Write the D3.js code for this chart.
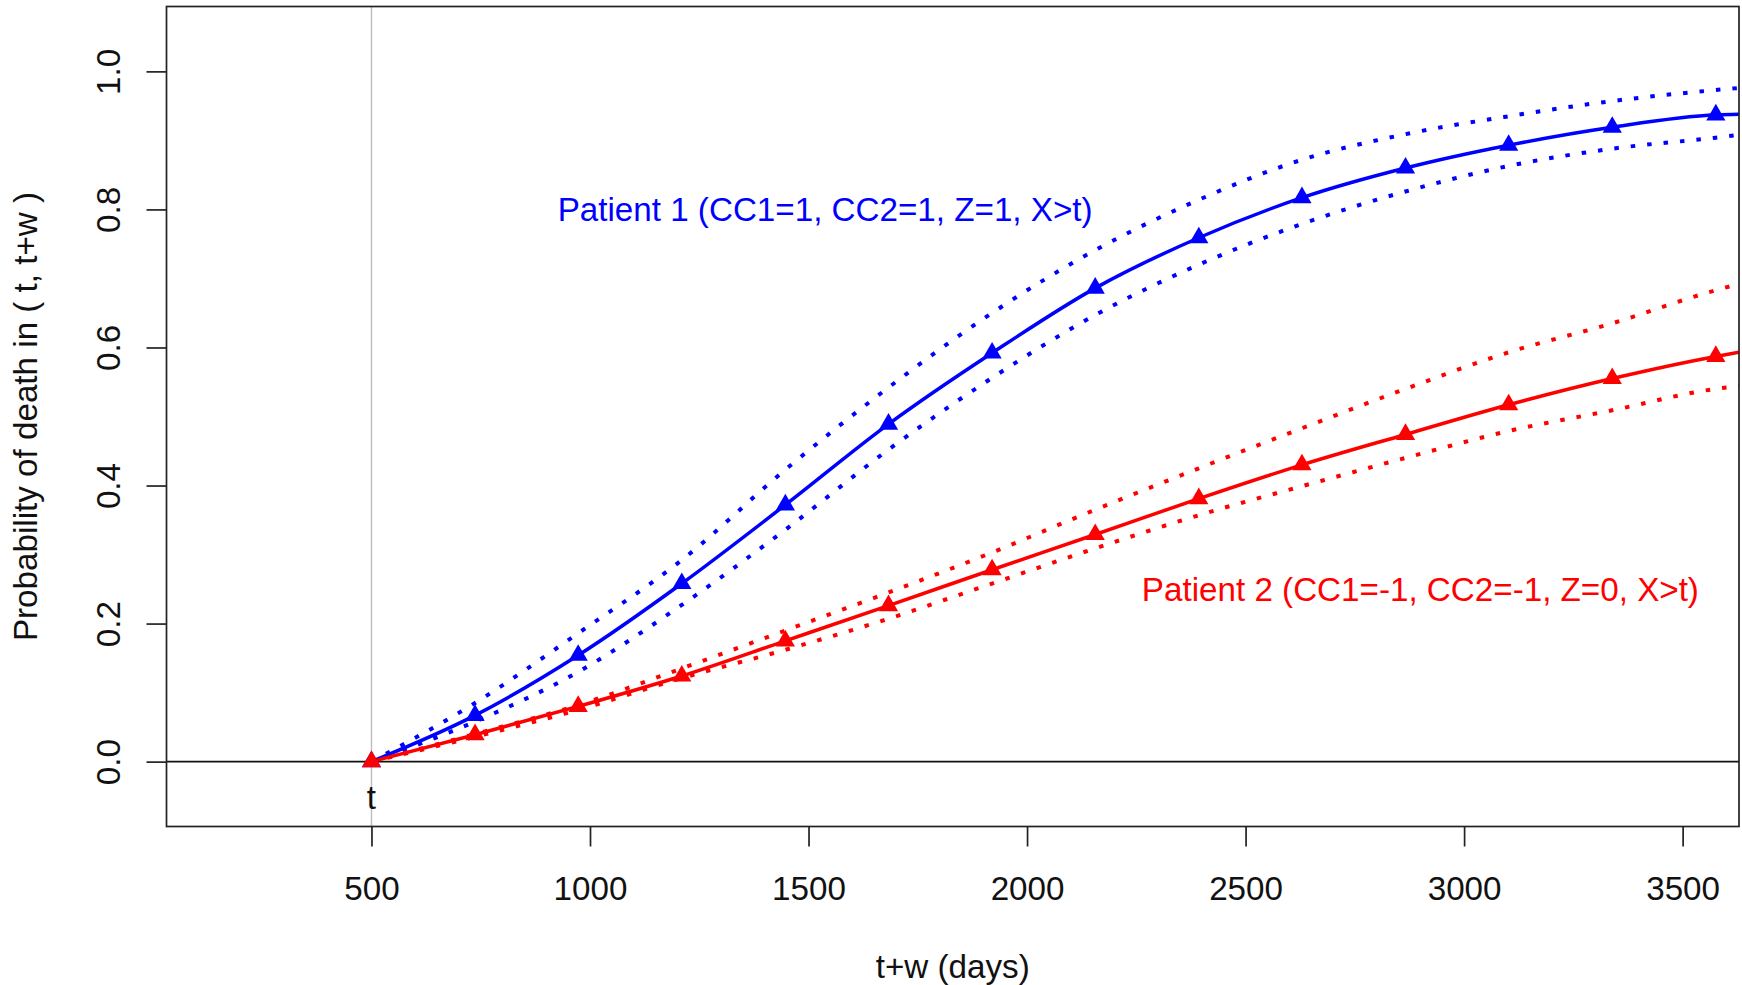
<!DOCTYPE html>
<html>
<head>
<meta charset="utf-8">
<script src="https://cdn.jsdelivr.net/npm/d3@7"></script>
<style>
  html, body { margin: 0; padding: 0; background: #fff; }
  svg { display: block; font-family: "Liberation Sans", Arial, sans-serif; }
</style>
</head>
<body>
<svg id="chart" width="1742" height="985"></svg>
<script>
// ---- data ----
const times = [500, 737, 973, 1210, 1447, 1683, 1920, 2156, 2393, 2629, 2866, 3102, 3339, 3576, 3629];
const markerCount = 14; // triangles drawn at the first 14 time points

const p1Est   = [0, 0.067, 0.154, 0.258, 0.372, 0.489, 0.592, 0.686, 0.759, 0.817, 0.860, 0.893, 0.919, 0.937, 0.938];
const p1Upper = [0, 0.085, 0.186, 0.292, 0.423, 0.542, 0.650, 0.741, 0.814, 0.872, 0.909, 0.935, 0.957, 0.973, 0.976];
const p1Lower = [0, 0.058, 0.130, 0.227, 0.336, 0.452, 0.556, 0.647, 0.720, 0.779, 0.826, 0.863, 0.888, 0.904, 0.908];

const p2Est   = [0, 0.039, 0.080, 0.124, 0.175, 0.226, 0.278, 0.329, 0.381, 0.430, 0.474, 0.517, 0.555, 0.587, 0.593];
const p2Upper = [0, 0.040, 0.082, 0.135, 0.190, 0.245, 0.303, 0.365, 0.425, 0.483, 0.540, 0.593, 0.635, 0.683, 0.692];
const p2Lower = [0, 0.036, 0.075, 0.121, 0.162, 0.207, 0.258, 0.309, 0.357, 0.399, 0.440, 0.479, 0.509, 0.540, 0.544];

const xTicks = [500, 1000, 1500, 2000, 2500, 3000, 3500];
const yTicks = [0, 0.2, 0.4, 0.6, 0.8, 1.0];
const yTickLabels = ["0.0", "0.2", "0.4", "0.6", "0.8", "1.0"];

const tValue = 500;
const label1 = "Patient 1 (CC1=1, CC2=1, Z=1, X>t)";
const label2 = "Patient 2 (CC1=-1, CC2=-1, Z=0, X>t)";
const label1Pos = [1538, 0.80];
const label2Pos = [2900, 0.25];
const xTitle = "t+w (days)";
const yTitle = "Probability of death in ( t, t+w )";

// ---- layout ----
const plot = { left: 166.5, right: 1739, top: 6.5, bottom: 826.5 };
const FONT = 33.2;
const BLUE = "#0000ff", RED = "#ff0000";
const FAMILY = '"Liberation Sans", Arial, sans-serif';

const x = d3.scaleLinear().domain([31, 3629]).range([plot.left, plot.right]);
const y = d3.scaleLinear().domain([-0.094, 1.094]).range([plot.bottom, plot.top]);

const svg = d3.select("#chart");
svg.append("rect").attr("width", 1742).attr("height", 985).attr("fill", "#fff");

svg.append("defs").append("clipPath").attr("id", "clip")
  .append("rect")
  .attr("x", plot.left).attr("y", plot.top)
  .attr("width", plot.right - plot.left).attr("height", plot.bottom - plot.top);

// reference lines
svg.append("line")
  .attr("x1", x(tValue)).attr("x2", x(tValue))
  .attr("y1", plot.top).attr("y2", plot.bottom)
  .attr("stroke", "#bebebe").attr("stroke-width", 1.4);
svg.append("line")
  .attr("x1", plot.left).attr("x2", plot.right)
  .attr("y1", y(0)).attr("y2", y(0))
  .attr("stroke", "#111").attr("stroke-width", 1.6);

// curves
const g = svg.append("g").attr("clip-path", "url(#clip)");
const line = d3.line().x(d => x(d[0])).y(d => y(d[1])).curve(d3.curveMonotoneX);
function zipT(vals) { return times.map((t, i) => [t, vals[i]]); }

const series = [
  { vals: p1Upper, color: BLUE, dash: "4.5 12", width: 4 },
  { vals: p1Lower, color: BLUE, dash: "4.5 12", width: 4 },
  { vals: p2Upper, color: RED, dash: "4.5 12", width: 4 },
  { vals: p2Lower, color: RED, dash: "4.5 12", width: 4 },
  { vals: p1Est, color: BLUE, dash: null, width: 3.5, markers: true },
  { vals: p2Est, color: RED, dash: null, width: 3.5, markers: true }
];

series.forEach(s => {
  g.append("path")
    .datum(zipT(s.vals))
    .attr("d", line)
    .attr("fill", "none")
    .attr("stroke", s.color)
    .attr("stroke-width", s.width)
    .attr("stroke-dasharray", s.dash)
    .attr("stroke-linecap", "butt");
});

const tri = d3.symbol().type(d3.symbolTriangle).size(160);
series.filter(s => s.markers).forEach(s => {
  g.selectAll(null)
    .data(zipT(s.vals).slice(0, markerCount))
    .enter().append("path")
    .attr("d", tri)
    .attr("transform", d => `translate(${x(d[0])},${y(d[1])})`)
    .attr("fill", s.color);
});

// box
svg.append("rect")
  .attr("x", plot.left).attr("y", plot.top)
  .attr("width", plot.right - plot.left).attr("height", plot.bottom - plot.top)
  .attr("fill", "none").attr("stroke", "#222").attr("stroke-width", 1.7);

// x axis
const xAxis = d3.axisBottom(x).tickValues(xTicks).tickSize(20).tickPadding(0).tickFormat(d3.format("d"));
const xg = svg.append("g").attr("transform", `translate(0,${plot.bottom})`).call(xAxis);
xg.select(".domain").remove();
xg.selectAll(".tick line").attr("stroke", "#222").attr("stroke-width", 1.7);
xg.selectAll(".tick text")
  .attr("y", 900 - plot.bottom).attr("dy", null)
  .attr("font-size", FONT).attr("fill", "#111")
  .attr("font-family", FAMILY);

// y axis
const yAxis = d3.axisLeft(y).tickValues(yTicks).tickSize(20).tickFormat((d, i) => yTickLabels[i]);
const yg = svg.append("g").attr("transform", `translate(${plot.left},0)`).call(yAxis);
yg.select(".domain").remove();
yg.selectAll(".tick line").attr("stroke", "#222").attr("stroke-width", 1.7);
yg.selectAll(".tick text")
  .attr("x", null).attr("dy", null)
  .attr("transform", `translate(${120 - plot.left},0) rotate(-90)`)
  .attr("text-anchor", "middle")
  .attr("font-size", FONT).attr("fill", "#111")
  .attr("font-family", FAMILY);

// "t" label under the reference line
svg.append("text")
  .attr("x", x(tValue)).attr("y", 809)
  .attr("text-anchor", "middle")
  .attr("font-size", FONT).attr("fill", "#111")
  .text("t");

// axis titles
svg.append("text")
  .attr("x", (plot.left + plot.right) / 2).attr("y", 978)
  .attr("text-anchor", "middle")
  .attr("font-size", FONT).attr("fill", "#111")
  .text(xTitle);
svg.append("text")
  .attr("transform", `translate(37,${(plot.top + plot.bottom) / 2}) rotate(-90)`)
  .attr("text-anchor", "middle")
  .attr("font-size", FONT).attr("fill", "#111")
  .text(yTitle);

// patient labels
svg.append("text")
  .attr("x", x(label1Pos[0])).attr("y", y(label1Pos[1]))
  .attr("dy", "0.36em")
  .attr("text-anchor", "middle")
  .attr("font-size", FONT).attr("fill", BLUE)
  .text(label1);
svg.append("text")
  .attr("x", x(label2Pos[0])).attr("y", y(label2Pos[1]))
  .attr("dy", "0.36em")
  .attr("text-anchor", "middle")
  .attr("font-size", FONT).attr("fill", RED)
  .text(label2);
</script>
</body>
</html>
